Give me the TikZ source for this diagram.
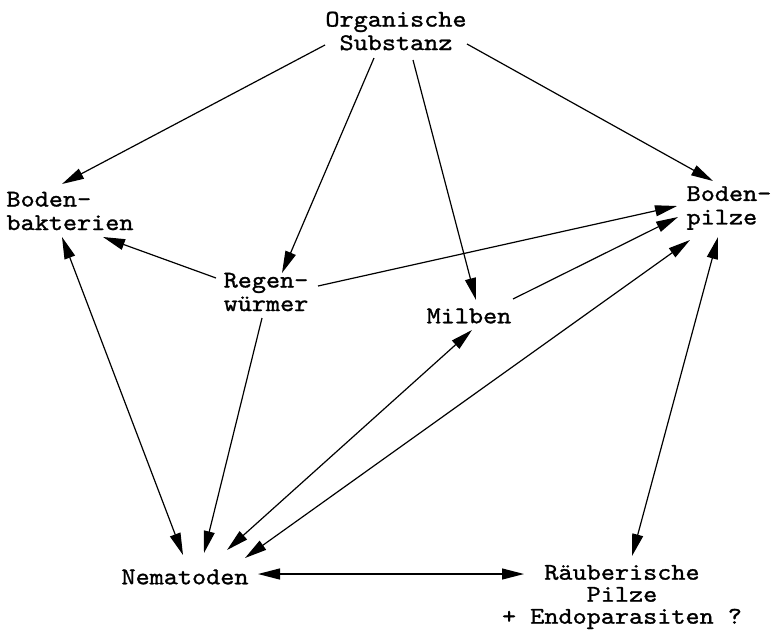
\documentclass[tikz,border=0pt]{standalone}
\usepackage{fontspec}
\newfontfamily\twfont[FakeStretch=1.12,FakeBold=1.2]{lmmono10-regular.otf}
\usetikzlibrary{arrows.meta}
\begin{document}
\begin{tikzpicture}[x=1pt,y=-1pt,
  lbl/.style={font=\twfont\fontsize{24}{23.5}\selectfont, inner sep=0pt},
  conn/.style={line width=1.2pt, -{Triangle[length=22pt,width=11pt]}},
  biconn/.style={line width=1.2pt, {Triangle[length=22pt,width=11pt]}-{Triangle[length=22pt,width=11pt]}}]
\useasboundingbox (0,0) rectangle (773,630);
% nodes
\node[lbl, align=center] (os) at (396,31) {Organische\\Substanz};
\node[lbl, align=left] (bb) at (70,211) {Boden-\\bakterien};
\node[lbl, align=left] (rw) at (266,292) {Regen-\\würmer};
\node[lbl] (mi) at (469,316) {Milben};
\node[lbl, align=left] (bp) at (729,208) {Boden-\\pilze};
\node[lbl] (ne) at (185,577) {Nematoden};
\node[lbl, align=center, font=\twfont\fontsize{24}{22}\selectfont] (rp) at (622,597) {Räuberische\\Pilze\\+ Endoparasiten ?};
% connector end points
\coordinate (os-bb-a) at (325,45);  \coordinate (os-bb-b) at (62,184);
\coordinate (os-rw-a) at (374,58);  \coordinate (os-rw-b) at (282,273);
\coordinate (os-mi-a) at (413,60);  \coordinate (os-mi-b) at (476,300);
\coordinate (os-bp-a) at (467,44);  \coordinate (os-bp-b) at (713,181);
\coordinate (rw-bb-a) at (216,278); \coordinate (rw-bb-b) at (103,237);
\coordinate (rw-bp-a) at (318,286); \coordinate (rw-bp-b) at (677,206);
\coordinate (mi-bp-a) at (513,299); \coordinate (mi-bp-b) at (678,217);
\coordinate (ne-bp-a) at (245,558); \coordinate (ne-bp-b) at (690,240);
\coordinate (ne-mi-a) at (227,550); \coordinate (ne-mi-b) at (472,330);
\coordinate (ne-bb-a) at (183,555); \coordinate (ne-bb-b) at (62,237);
\coordinate (rw-ne-a) at (262,318); \coordinate (rw-ne-b) at (204,553);
\coordinate (bp-rp-a) at (718,237); \coordinate (bp-rp-b) at (632,556);
\coordinate (ne-rp-a) at (258,574); \coordinate (ne-rp-b) at (524,574);
% connectors
\draw[conn] (os-bb-a) -- (os-bb-b);
\draw[conn] (os-rw-a) -- (os-rw-b);
\draw[conn] (os-mi-a) -- (os-mi-b);
\draw[conn] (os-bp-a) -- (os-bp-b);
\draw[conn] (rw-bb-a) -- (rw-bb-b);
\draw[conn] (rw-bp-a) -- (rw-bp-b);
\draw[conn] (mi-bp-a) -- (mi-bp-b);
\draw[biconn] (ne-bp-a) -- (ne-bp-b);
\draw[biconn] (ne-mi-a) -- (ne-mi-b);
\draw[biconn] (ne-bb-a) -- (ne-bb-b);
\draw[conn] (rw-ne-a) -- (rw-ne-b);
\draw[biconn] (bp-rp-a) -- (bp-rp-b);
\draw[biconn] (ne-rp-a) -- (ne-rp-b);
\end{tikzpicture}
\end{document}
